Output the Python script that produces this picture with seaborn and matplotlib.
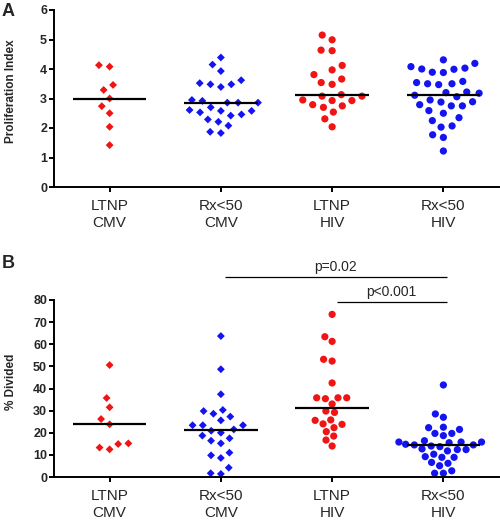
import numpy as np
import pandas as pd
import matplotlib
matplotlib.use("Agg")
import matplotlib.pyplot as plt
import seaborn as sns

# ---- data ----
categories = ["LTNP\nCMV", "Rx<50\nCMV", "LTNP\nHIV", "Rx<50\nHIV"]
group_colors = ["#f01414", "#1414f0", "#f01414", "#1414f0"]
group_markers = ["D", "D", "o", "o"]

A_ltnp_cmv = [4.08, 4.13, 3.29, 3.46, 3.00, 2.74, 2.50, 2.04, 1.42]
A_rx_cmv = [4.39, 4.15, 3.93, 3.52, 3.48, 3.39, 3.48, 3.62, 2.86, 2.92, 2.86, 2.86, 2.95,
            2.58, 2.61, 2.46, 2.58, 2.42, 2.70, 2.53, 2.29, 2.08, 2.21, 1.83, 1.87]
A_ltnp_hiv = [5.15, 4.99, 4.64, 4.62, 4.12, 3.97, 3.81, 3.54, 3.48, 3.66, 3.08, 3.08, 3.13,
              2.95, 2.79, 2.93, 2.70, 2.93, 2.75, 2.54, 2.31, 2.04]
A_rx_hiv = [4.19, 4.31, 4.03, 3.99, 3.88, 3.89, 4.00, 4.08, 3.54, 3.50, 3.47, 3.50, 3.58,
            3.11, 3.20, 3.22, 3.06, 3.18, 2.95, 2.88, 2.89, 2.75, 2.79, 2.75, 2.59, 2.35,
            2.50, 2.25, 2.03, 2.07, 1.77, 1.68, 1.22]

B_ltnp_cmv = [50.6, 35.7, 31.5, 26.2, 23.8, 14.9, 12.5, 13.3, 15.2]
B_rx_cmv = [63.7, 48.7, 37.4, 30.3, 29.8, 28.6, 27.3, 25.6, 23.4, 23.4, 23.4, 20.0, 20.9,
            21.5, 18.7, 17.5, 15.2, 16.4, 9.8, 8.6, 11.0, 4.2, 1.4, 1.7]
B_ltnp_hiv = [73.5, 63.4, 61.3, 53.2, 52.4, 42.5, 35.8, 35.4, 35.8, 35.8, 33.0, 29.8, 29.2,
              25.8, 24.0, 23.8, 25.6, 22.3, 20.5, 18.5, 16.7, 14.0]
B_rx_hiv = [41.6, 28.5, 27.0, 22.5, 21.5, 19.7, 18.7, 19.7, 22.3, 16.4, 15.8, 15.5, 15.8,
            15.8, 14.8, 14.5, 14.5, 14.0, 13.7, 12.7, 12.4, 12.4, 11.8, 9.2, 8.9, 6.6, 8.9,
            10.3, 6.2, 2.8, 1.7, 1.7, 5.1]

A_ticks = [0, 1, 2, 3, 4, 5, 6]
B_ticks = [0, 10, 20, 30, 40, 50, 60, 70, 80]
A_ylabel = "Proliferation Index"
B_ylabel = "% Divided"
sig_labels = ["p=0.02", "p<0.001"]
sig_pairs = [(1, 3), (2, 3)]
sig_levels = [90.5, 79.3]

# ---- style ----
sns.set_style("ticks")
plt.rcParams["font.family"] = ["Liberation Sans", "DejaVu Sans"]


def make_df(groups):
    rows = []
    for cat, vals in zip(categories, groups):
        for v in vals:
            rows.append((cat, v))
    return pd.DataFrame(rows, columns=["group", "value"])


def draw_panel(ax, groups, ticks, ylabel, gaps):
    df = make_df(groups)
    pal = dict(zip(categories, group_colors))
    for (marker, size), gap in zip((("D", 4.0), ("o", 5.2)), gaps):
        cats_m = [c for c, m in zip(categories, group_markers) if m == marker]
        sub = df[df["group"].isin(cats_m)]
        sns.swarmplot(data=sub, x="group", y="value", hue="group", order=categories,
                      palette=pal, marker=marker, size=size, linewidth=gap,
                      edgecolor="none", legend=False, ax=ax, zorder=2,
                      warn_thresh=1.0)
    sns.boxplot(data=df, x="group", y="value", order=categories, width=0.66,
                showbox=False, showcaps=False, showfliers=False,
                whiskerprops={"visible": False},
                medianprops={"color": "black", "linewidth": 1.6, "zorder": 4},
                ax=ax)
    ax.set_xlim(-0.5, 3.5)
    ax.set_ylim(ticks[0], ticks[-1])
    ax.set_yticks(ticks)
    ax.set_yticklabels([str(t) for t in ticks], fontweight="bold", fontsize=9)
    ax.set_xticks(range(len(categories)))
    ax.set_xticklabels(categories, fontsize=11, linespacing=1.25)
    ax.set_xlabel("")
    ax.set_ylabel(ylabel, fontweight="bold", fontsize=8.5)
    ax.yaxis.set_label_coords(-0.083, 0.54)
    sns.despine(ax=ax)
    for s in ("left", "bottom"):
        ax.spines[s].set_linewidth(1.4)
        ax.spines[s].set_color("black")
    ax.tick_params(axis="both", direction="out", length=3.5, width=1.4, color="black")
    ax.tick_params(axis="y", pad=1.5)
    ax.tick_params(axis="x", pad=5)


fig = plt.figure(figsize=(5.0, 5.25), dpi=100)
W, H = 500.0, 525.0
axA = fig.add_axes([54 / W, (H - 187) / H, 445 / W, 177 / H])
axB = fig.add_axes([54 / W, (H - 477) / H, 445 / W, 177 / H])

draw_panel(axA, [A_ltnp_cmv, A_rx_cmv, A_ltnp_hiv, A_rx_hiv], A_ticks, A_ylabel, (3.4, 2.4))
draw_panel(axB, [B_ltnp_cmv, B_rx_cmv, B_ltnp_hiv, B_rx_hiv], B_ticks, B_ylabel, (3.0, 0.8))

# significance bars
for (g1, g2), lvl, lab in zip(sig_pairs, sig_levels, sig_labels):
    x1 = g1 + 0.04
    x2 = g2 + 0.03
    axB.plot([x1, x2], [lvl, lvl], color="black", lw=0.9, clip_on=False,
             solid_capstyle="butt")
    axB.text((x1 + x2) / 2, lvl + 1.2, lab, ha="center", va="bottom",
             fontsize=10, clip_on=False)

fig.text(0.004, 0.978, "A", fontsize=13, fontweight="bold", va="center", ha="left")
fig.text(0.004, 0.498, "B", fontsize=13, fontweight="bold", va="center", ha="left")

fig.savefig("out.png", dpi=100)
